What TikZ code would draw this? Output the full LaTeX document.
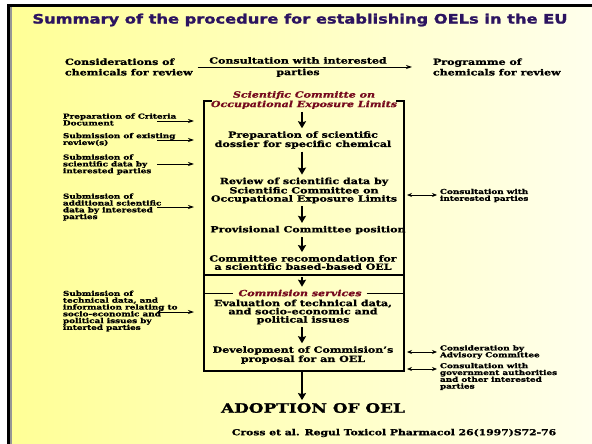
\documentclass[tikz,border=0pt]{standalone}
\usepackage{fontspec}
\setmainfont{DejaVu Serif}[FakeStretch=1.3, FakeBold=1.2]
\newfontfamily\titlefont{DejaVu Sans}[FakeStretch=1.25, FakeBold=1.6]
\usetikzlibrary{arrows.meta}
\definecolor{titleink}{RGB}{44,20,96}
\definecolor{headink}{RGB}{118,10,30}
\definecolor{leftyellow}{RGB}{255,255,150}
\definecolor{rightcream}{RGB}{255,255,236}
\definecolor{rulegray}{RGB}{150,150,150}
\tikzset{
  every node/.style={inner sep=0pt, outer sep=0pt},
  boxtext/.style={font=\fontsize{8.5}{8.2}\selectfont\bfseries, align=center},
  headtext/.style={font=\fontsize{8.5}{9.5}\selectfont\bfseries\itshape, text=headink, align=center},
  toptext/.style={font=\fontsize{8.5}{10.5}\selectfont\bfseries, align=left, anchor=west},
  sidetext/.style={font=\fontsize{6.8}{6.8}\selectfont\bfseries, align=left, anchor=west},
  flow/.style={line width=1.6pt, -{Stealth[length=7pt,width=8pt,inset=1pt]}, shorten <=3pt, shorten >=3pt},
  feed/.style={line width=0.8pt, -{Stealth[length=6pt,width=4pt]}},
  twoway/.style={line width=0.8pt, {Stealth[length=5pt,width=4pt]}-{Stealth[length=5pt,width=4pt]}},
  frame/.style={line width=2.6pt},
}
\begin{document}
\begin{tikzpicture}[x=1pt,y=-1pt]
\useasboundingbox (0,0) rectangle (592,444);
% slide background and frame
\fill[white] (0,0) rectangle (592,444);
\shade[left color=leftyellow, right color=rightcream] (10,6) rectangle (592,444);
\draw[line width=1.6pt, rulegray] (11.2,7) -- (11.2,444);
\draw[line width=3pt] (8.5,444) -- (8.5,5.5) -- (592,5.5);

% title
\node[font=\titlefont\fontsize{13}{13}\selectfont\bfseries, text=titleink] (title) at (300,20)
  {Summary of the procedure for establishing OELs in the EU};

% top row
\node[toptext] (consid) at (65,67) {Considerations of\\chemicals for review};
\node[font=\fontsize{8.5}{11.5}\selectfont\bfseries, align=center] (consult) at (298,67)
  {Consultation with interested\\parties};
\node[toptext] (progr) at (433,67) {Programme of\\chemicals for review};
\draw[feed, shorten <=5pt, shorten >=21pt] (consid.east) -- (progr.west);

% main frame
\coordinate (bNW) at (204,101);
\coordinate (bNE) at (404,101);
\coordinate (bSW) at (204,371);
\coordinate (bSE) at (404,371);
\coordinate (tickL) at (212,101);
\coordinate (tickR) at (396,101);
\draw[frame] (tickL) -- (bNW) -- (bSW) -- (bSE) -- (bNE) -- (tickR);
\coordinate (dL) at (204,275);
\coordinate (dR) at (404,275);
\draw[line width=2pt] (dL) -- (dR);
\coordinate (ax) at (302,0);

% scientific committee part
\node[headtext] (sci) at (304,100) {Scientific Committe on\\Occupational Exposure Limits};
\node[boxtext] (prep) at (303,140) {Preparation of scientific\\dossier for specific chemical};
\node[boxtext] (review) at (304,190.5) {Review of scientific data by\\Scientific Committee on\\Occupational Exposure Limits};
\node[boxtext] (prov) at (308,230) {Provisional Committee position};
\node[boxtext] (recom) at (303,262.5) {Committee recomondation for\\a scientific based-based OEL};

% commission part
\node[headtext, inner xsep=5pt] (comm) at (300,293) {Commision services};
\coordinate (cL) at (204,293);
\coordinate (cR) at (404,293);
\draw[line width=0.8pt] (cL) -- (comm.west) (comm.east) -- (cR);
\node[boxtext] (eval) at (303,312) {Evaluation of technical data,\\and socio-economic and\\political issues};
\node[boxtext] (dev) at (303,355) {Development of Commision's\\proposal for an OEL};

\node[font=\fontsize{13}{13}\selectfont\bfseries] (adopt) at (313,408) {ADOPTION OF OEL};
\node[font=\fontsize{8.3}{9}\selectfont\bfseries] (cite) at (394,433)
  {Cross et al. Regul Toxicol Pharmacol 26(1997)S72-76};

% flow arrows
\draw[flow] (sci.south -| ax) -- (prep.north -| ax);
\draw[flow] (prep.south -| ax) -- (review.north -| ax);
\draw[flow] (review.south -| ax) -- (prov.north -| ax);
\draw[flow] (prov.south -| ax) -- (recom.north -| ax);
\draw[flow, shorten <=2pt] (dL -| ax) -- (comm.north -| ax);
\draw[flow] (eval.south -| ax) -- (dev.north -| ax);
\draw[flow, shorten <=1pt] (bSW -| ax) -- (adopt.north -| ax);

% inputs on the left
\node[sidetext] (l1) at (63,119.5) {Preparation of Criteria\\Document};
\node[sidetext] (l2) at (63,139.5) {Submission of existing\\review(s)};
\node[sidetext] (l3) at (63,164.5) {Submission of\\scientific data by\\interested parties};
\node[sidetext] (l4) at (63,207) {Submission of\\additional scientific\\data by interested\\parties};
\node[sidetext] (l5) at (63,311) {Submission of\\technical data, and\\information relating to\\socio-economic and\\political issues by\\interted parties};
\coordinate (f1) at (157,121);
\coordinate (f2) at (157,140);
\coordinate (f3) at (157,164);
\coordinate (f4) at (157,207);
\coordinate (f5) at (157,312);
\foreach \f in {f1,f2,f3,f4,f5}
  \draw[feed, shorten >=10pt] (\f) -- (\f -| bNW);

% consultations on the right
\node[sidetext] (r1) at (440,195.5) {Consultation with\\interested parties};
\node[sidetext] (r2) at (440,352) {Consideration by\\Advisory Committee};
\node[sidetext] (r3) at (440,376.5) {Consultation with\\government authorities\\and other interested\\parties};
\coordinate (g1) at (407,195);
\coordinate (g2) at (407,352);
\coordinate (g3) at (407,369);
\draw[twoway, shorten >=3pt] (g1) -- (g1 -| r1.west);
\draw[twoway, shorten >=3pt] (g2) -- (g2 -| r2.west);
\draw[twoway, shorten >=3pt] (g3) -- (g3 -| r3.west);
\end{tikzpicture}
\end{document}
